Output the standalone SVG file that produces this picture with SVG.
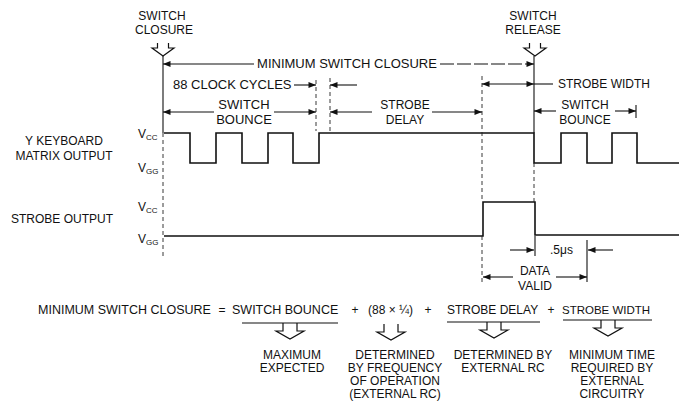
<svg xmlns="http://www.w3.org/2000/svg" width="679" height="403" viewBox="0 0 679 403">
<style>
text{font-family:"Liberation Sans",Arial,sans-serif;font-size:12px;fill:#111}
.c{text-anchor:middle}
.s{font-size:8px}
.w{fill:none;stroke:#111;stroke-width:1.6}
.ln{fill:none;stroke:#111;stroke-width:1.1}
.ds{fill:none;stroke:#222;stroke-width:0.9;stroke-dasharray:4 3}
.ho{fill:none;stroke:#111;stroke-width:1.2}
</style>
<defs>
<marker id="ah" viewBox="0 0 10 8" refX="10" refY="4" markerWidth="9" markerHeight="6" markerUnits="userSpaceOnUse" orient="auto-start-reverse">
<path d="M0,0 L10,4 L0,8 z" fill="#111"/>
</marker>
<path id="hs" d="M-5.5,-13 V-8 H-11 L0,0 L11,-8 H5.5 V-13"/>
<path id="hb" d="M-7,-16 V-8 H-14 L0,0 L14,-8 H7 V-16"/>
</defs>

<g id="top-labels">
<text class="c" x="162" y="20">SWITCH</text>
<text class="c" x="164" y="34">CLOSURE</text>
<use href="#hs" x="163" y="56" class="ho"/>
<text class="c" x="533" y="20">SWITCH</text>
<text class="c" x="533" y="34">RELEASE</text>
<use href="#hs" x="535" y="56" class="ho"/>
</g>

<g id="signal-labels">
<text class="c" x="64" y="145">Y KEYBOARD</text>
<text class="c" x="64" y="160">MATRIX OUTPUT</text>
<text class="c" x="62" y="223">STROBE OUTPUT</text>
<text x="138" y="138">V<tspan class="s" dy="2">CC</tspan></text>
<text x="138" y="172">V<tspan class="s" dy="2">GG</tspan></text>
<text x="138" y="211">V<tspan class="s" dy="2">CC</tspan></text>
<text x="138" y="243">V<tspan class="s" dy="2">GG</tspan></text>
</g>

<g id="waveforms">
<path class="w" d="M164,133 H190 V163 H216 V133 H242 V163 H268 V133 H293 V163 H319 V133 H534 V163 H561 V133 H587 V163 H612 V133 H637 V163 H679"/>
<path class="w" d="M164,236 H483 V202 H535 V235 H679"/>
</g>

<g id="timing-labels">
<text class="c" x="347" y="68" style="font-size:13px">MINIMUM SWITCH CLOSURE</text>
<text x="173" y="89" style="font-size:13px">88 CLOCK CYCLES</text>
<text x="558" y="88">STROBE WIDTH</text>
<text class="c" x="244" y="109" style="font-size:13px">SWITCH</text>
<text class="c" x="244" y="124" style="font-size:13px">BOUNCE</text>
<text class="c" x="405" y="109">STROBE</text>
<text class="c" x="405" y="124">DELAY</text>
<text class="c" x="585" y="109">SWITCH</text>
<text class="c" x="585" y="124">BOUNCE</text>
<text x="550" y="254">.5μs</text>
<text class="c" x="535" y="275">DATA</text>
<text class="c" x="535" y="290">VALID</text>
</g>

<g id="connectors">
<line class="ln" x1="163" y1="56" x2="163" y2="133"/>
<line class="ds" x1="163" y1="133" x2="163" y2="258"/>
<line class="ds" x1="316" y1="80" x2="316" y2="131"/>
<line class="ds" x1="330" y1="78" x2="330" y2="131"/>
<line class="ds" x1="482" y1="76" x2="482" y2="202"/>
<line class="ds" x1="482" y1="236" x2="482" y2="282"/>
<line class="ln" x1="534" y1="56" x2="534" y2="133"/>
<line class="ds" x1="534" y1="163" x2="534" y2="202"/>
<line class="ln" x1="535" y1="236" x2="535" y2="256"/>
<line class="ln" x1="587" y1="240" x2="587" y2="282"/>
<line class="ln" x1="636" y1="105" x2="636" y2="118"/>

<line class="ln" x1="254" y1="64" x2="163" y2="64" marker-end="url(#ah)"/>
<line class="ln" x1="440" y1="64" x2="534" y2="64" marker-end="url(#ah)" stroke-dasharray="14 3"/>
<line class="ln" x1="294" y1="85" x2="316" y2="85" marker-end="url(#ah)"/>
<line class="ln" x1="357" y1="85" x2="330" y2="85" marker-end="url(#ah)"/>
<line class="ln" x1="482" y1="84" x2="534" y2="84" marker-start="url(#ah)" marker-end="url(#ah)"/>
<line class="ln" x1="534" y1="84" x2="553" y2="84"/>
<line class="ln" x1="214" y1="112" x2="163" y2="112" marker-end="url(#ah)"/>
<line class="ln" x1="274" y1="112" x2="316" y2="112" marker-end="url(#ah)"/>
<line class="ln" x1="372" y1="112" x2="330" y2="112" marker-end="url(#ah)"/>
<line class="ln" x1="432" y1="112" x2="482" y2="112" marker-end="url(#ah)"/>
<line class="ln" x1="556" y1="111" x2="534" y2="111" marker-end="url(#ah)"/>
<line class="ln" x1="615" y1="111" x2="636" y2="111" marker-end="url(#ah)"/>
<line class="ln" x1="510" y1="250" x2="534" y2="250" marker-end="url(#ah)"/>
<line class="ln" x1="613" y1="250" x2="588" y2="250" marker-end="url(#ah)"/>
<line class="ln" x1="513" y1="277" x2="483" y2="277" marker-end="url(#ah)"/>
<line class="ln" x1="556" y1="277" x2="587" y2="277" marker-end="url(#ah)"/>
</g>

<g id="equation">
<text x="38" y="314" style="font-size:12.5px">MINIMUM SWITCH CLOSURE</text>
<text class="c" x="222" y="314">=</text>
<text x="232" y="314" style="font-size:12.5px">SWITCH BOUNCE</text>
<text class="c" x="355" y="314">+</text>
<text x="368" y="314">(88 × ¼)</text>
<text class="c" x="428" y="314">+</text>
<text x="447" y="314">STROBE DELAY</text>
<text class="c" x="551" y="314">+</text>
<text x="562" y="314" style="font-size:11.5px">STROBE WIDTH</text>
</g>

<g id="brackets">
<line class="ln" x1="242" y1="323" x2="338" y2="323"/>
<use href="#hb" x="290" y="339" class="ho"/>
<use href="#hb" x="391" y="340" class="ho"/>
<line class="ln" x1="447" y1="322" x2="540" y2="322"/>
<use href="#hb" x="494" y="338" class="ho"/>
<line class="ln" x1="563" y1="320" x2="652" y2="320"/>
<use href="#hb" x="608" y="336" class="ho"/>
</g>

<g id="notes">
<text class="c" x="292" y="359">MAXIMUM</text>
<text class="c" x="292" y="372">EXPECTED</text>
<text class="c" x="395" y="359">DETERMINED</text>
<text class="c" x="395" y="372">BY FREQUENCY</text>
<text class="c" x="395" y="385">OF OPERATION</text>
<text class="c" x="395" y="398">(EXTERNAL RC)</text>
<text class="c" x="503" y="359">DETERMINED BY</text>
<text class="c" x="503" y="372">EXTERNAL RC</text>
<text class="c" x="612" y="359">MINIMUM TIME</text>
<text class="c" x="612" y="372">REQUIRED BY</text>
<text class="c" x="612" y="385">EXTERNAL</text>
<text class="c" x="612" y="398">CIRCUITRY</text>
</g>
</svg>
